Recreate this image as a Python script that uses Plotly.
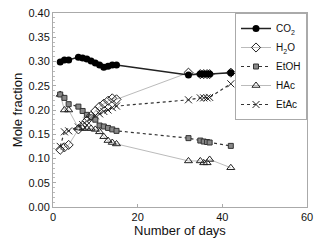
import plotly.graph_objects as go

days = [1.7, 2.7, 3.7, 6, 7, 8, 9, 10, 11, 12, 13, 14, 15, 32, 34.8, 35.6, 36.4, 37, 42]
co2 = [0.299, 0.303, 0.303, 0.309, 0.307, 0.305, 0.301, 0.297, 0.293, 0.288, 0.290, 0.293, 0.293,
       0.272, 0.274, 0.274, 0.274, 0.274, 0.277]
h2o = [0.118, 0.123, 0.128, 0.160, 0.168, 0.178, 0.188, 0.198, 0.207, 0.213, 0.219, 0.224, 0.222,
       0.277, 0.274, 0.274, 0.274, 0.274, 0.277]
etoh = [0.232, 0.225, 0.212, 0.207, 0.198, 0.190, 0.185, 0.180, 0.168, 0.166, 0.163, 0.160, 0.157,
        0.142, 0.137, 0.135, 0.134, 0.133, 0.126]
hac = [0.232, 0.200, 0.200, 0.163, 0.162, 0.162, 0.162, 0.160, 0.155, 0.145, 0.137, 0.133, 0.130,
       0.095, 0.095, 0.091, 0.091, 0.098, 0.081]
etac = [0.125, 0.155, 0.157, 0.165, 0.170, 0.177, 0.183, 0.188, 0.192, 0.197, 0.200, 0.205, 0.208,
        0.221, 0.225, 0.225, 0.225, 0.226, 0.254]

FONT = "Liberation Sans, Arial, sans-serif"
fig = go.Figure()
fig.add_trace(go.Scatter(x=days, y=etac, name="EtAc", mode="lines+markers",
                         line=dict(color="#333333", width=1.2, dash="dot"),
                         marker=dict(symbol="x-thin-open", size=7, color="#222222", line=dict(color="#222222", width=1))))
fig.add_trace(go.Scatter(x=days, y=hac, name="HAc", mode="lines+markers",
                         line=dict(color="#bbbbbb", width=1),
                         marker=dict(symbol="triangle-up-open", size=7, color="#222222", line=dict(width=1))))
fig.add_trace(go.Scatter(x=days, y=etoh, name="EtOH", mode="lines+markers",
                         line=dict(color="#333333", width=1.2, dash="dot"),
                         marker=dict(symbol="square", size=5, color="#888888", line=dict(color="#333333", width=1))))
fig.add_trace(go.Scatter(x=days, y=h2o, name="H<sub>2</sub>O", mode="lines+markers",
                         line=dict(color="#bbbbbb", width=1),
                         marker=dict(symbol="diamond-open", size=7, color="#222222", line=dict(width=1))))
fig.add_trace(go.Scatter(x=days, y=co2, name="CO<sub>2</sub>", mode="lines+markers",
                         line=dict(color="#222222", width=1.5),
                         marker=dict(symbol="circle", size=7, color="#000000")))

fig.update_layout(
    width=320, height=246,
    margin=dict(l=53, r=9, t=7, b=39),
    paper_bgcolor="white", plot_bgcolor="white",
    font=dict(family=FONT, size=11, color="#111111"),
    legend=dict(x=1, y=1, xanchor="right", yanchor="top", traceorder="reversed",
                bordercolor="#aaaaaa", borderwidth=1, bgcolor="white",
                font=dict(size=10), itemwidth=30, tracegroupgap=0),
    xaxis=dict(range=[0, 60], dtick=20, showgrid=False, zeroline=False,
               showline=True, mirror=True, linecolor="#aaaaaa", linewidth=1,
               ticks="inside", ticklen=3, tickcolor="#aaaaaa",
               title=dict(text="Number of days", font=dict(size=13), standoff=3)),
    yaxis=dict(range=[0, 0.40], dtick=0.05, tickformat=".2f", showgrid=False, zeroline=False,
               showline=True, mirror=True, linecolor="#aaaaaa", linewidth=1,
               ticks="inside", ticklen=3, tickcolor="#aaaaaa",
               minor=dict(ticks="inside", dtick=0.01, ticklen=2, tickcolor="#bbbbbb"),
               title=dict(text="Mole fraction", font=dict(size=13), standoff=2)),
)
fig.write_html("out.html", config={"displayModeBar": False},
               post_script="document.body.style.margin='0';document.body.style.overflow='hidden';")
